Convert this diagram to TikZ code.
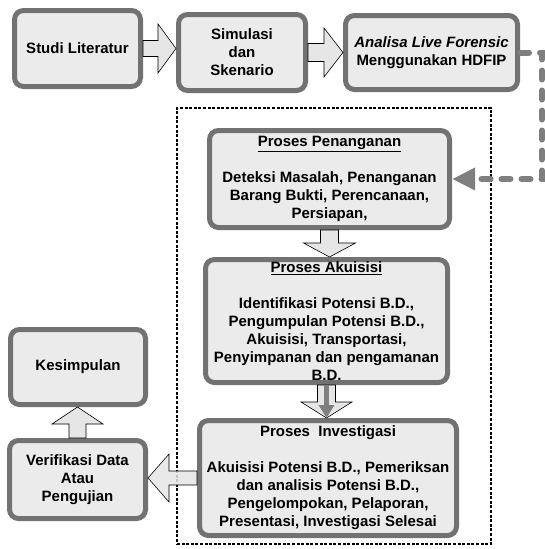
\documentclass[tikz,border=0pt]{standalone}
\usepackage{fontspec}
\setmainfont{Liberation Sans}
\usetikzlibrary{calc,arrows.meta}
\definecolor{boxfill}{HTML}{EBEBEB}
\definecolor{boxline}{HTML}{727272}
\definecolor{arrfill}{HTML}{E6E6E6}
\definecolor{connline}{HTML}{7F7F7F}
\tikzset{
  procbox/.style={draw=boxline, line width=5pt, fill=boxfill, rounded corners=9pt,
    align=center, inner sep=2pt, font=\bfseries\fontsize{15}{18}\selectfont},
  barrow/.style={draw=black, line width=0.6pt, fill=arrfill},
  groupframe/.style={draw=black, line width=1.5pt, dash pattern=on 3pt off 1.6pt, inner sep=0pt},
  dotconn/.style={draw=connline, line width=6pt, line cap=round, dash pattern=on 9pt off 11pt,
    -{Triangle[length=23pt,width=21pt]}},
  innerarrow/.style={draw=connline, line width=5pt, -{Triangle[length=13pt,width=15pt]}}
}
% block arrow: start, tip, shaft half width, head half width, head length
\newcommand\blockarrow[6][]{%
  \coordinate (ba-c) at ($(#3)!#6!(#2)$);
  \draw[barrow,#1] ($(#2)!#4!90:(#3)$) -- ($(ba-c)!#4!-90:(#2)$) -- ($(ba-c)!#5!-90:(#2)$)
    -- (#3) -- ($(ba-c)!#5!90:(#2)$) -- ($(ba-c)!#4!90:(#2)$) -- ($(#2)!#4!-90:(#3)$) -- cycle;
}
\begin{document}
\begin{tikzpicture}[x=1pt,y=-1pt]
\useasboundingbox[fill=white] (0,0) rectangle (545,549);

% grouping frame
\node[groupframe, minimum width=314pt, minimum height=436pt] (grp) at (334,326) {};

% process boxes
\node[procbox, minimum width=126pt, minimum height=76pt] (b1) at (77.5,48.5) {Studi Literatur};
\node[procbox, minimum width=127pt, minimum height=76pt] (b2) at (242,52.5) {Simulasi\\dan\\Skenario};
\node[procbox, minimum width=172pt, minimum height=74pt] (b3) at (431.5,52.5) {\itshape Analisa Live Forensic\\Menggunakan HDFIP};
\node[procbox, minimum width=240pt, minimum height=97pt] (b4) at (329.5,179) {\underline{Proses Penanganan}\\[18pt]Deteksi Masalah, Penanganan\\Barang Bukti, Perencanaan,\\Persiapan,};
\node[procbox, minimum width=242pt, minimum height=123pt] (b5) at (326.5,321) {\underline{Proses Akuisisi}\\[18pt]Identifikasi Potensi B.D.,\\Pengumpulan Potensi B.D.,\\Akuisisi, Transportasi,\\Penyimpanan dan pengamanan\\B.D.};
\node[procbox, minimum width=257pt, minimum height=115pt] (b6) at (328,478) {Proses\ \ Investigasi\\[18pt]Akuisisi Potensi B.D., Pemeriksan\\dan analisis Potensi B.D.,\\Pengelompokan, Pelaporan,\\Presentasi, Investigasi Selesai};
\node[procbox, minimum width=135pt, minimum height=75pt] (b7) at (78,367) {Kesimpulan};
\node[procbox, minimum width=136pt, minimum height=78pt] (b8) at (77.5,479.5) {Verifikasi Data\\Atau\\Pengujian};

% tips of the block arrows
\coordinate (t1) at (b2.west |- b1.east);
\coordinate (t2) at (b3.west |- b2.east);
\coordinate (t3) at (b4.south |- b5.north);
\coordinate (t4) at (b5.south |- b6.north);
\coordinate (t5) at (b8.north |- b7.south);
\coordinate (t6) at (b8.east |- b6.west);

\blockarrow{b1.east}{t1}{8pt}{24.5pt}{18pt}
\blockarrow{b2.east}{t2}{9pt}{24.5pt}{19pt}
\blockarrow{b4.south}{t3}{9pt}{26pt}{14pt}
\blockarrow{b5.south}{t4}{9pt}{25.5pt}{16pt}
\draw[innerarrow] (b5.south) -- (t4);
\blockarrow{b8.north}{t5}{8.5pt}{25.5pt}{17pt}
\blockarrow[fill opacity=0.85]{b6.west}{t6}{7pt}{24pt}{21pt}

% dotted connector
\coordinate (turn) at (542,52.5);
\draw[dotconn] (b3.east) -- (turn) |- (b4.east);
\end{tikzpicture}
\end{document}
